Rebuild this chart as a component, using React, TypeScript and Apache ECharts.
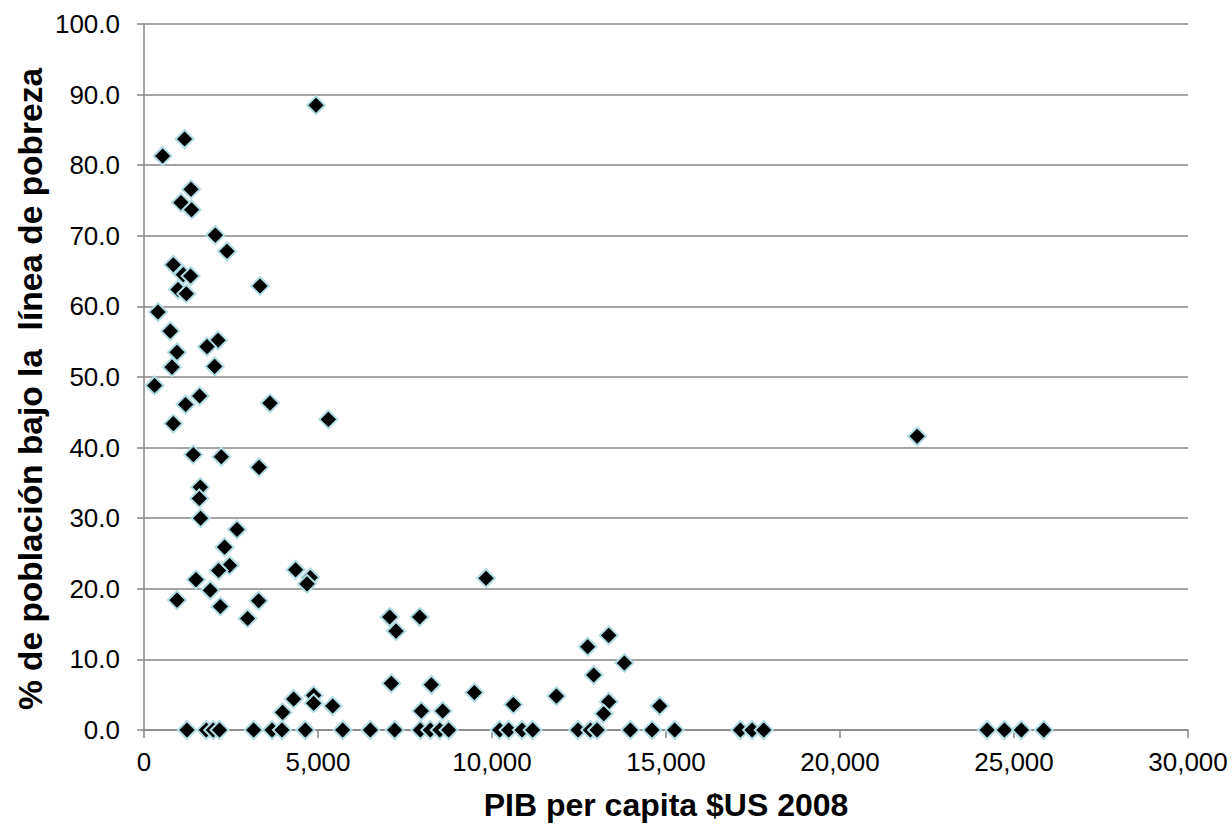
import React, { useEffect, useRef } from "react";
import * as echarts from "echarts";

// GDP per capita ($US 2008) and % population below poverty line
const gdpNonZero = [
  4943, 1167, 535, 1351, 1063, 1368, 2049, 2385, 842, 1129, 1340, 977, 1216, 3334, 402,
  756, 2127, 1811, 948, 805, 2030, 305, 1598, 1196, 3621, 5297, 842, 1417, 2222, 3305,
  1618, 1589, 1627, 2673, 2316, 2460, 2144, 4357, 4779, 4685, 1494, 1905, 948, 2193, 3294,
  2977, 7059, 7242, 7921, 9829, 22216, 7107, 8257, 9493, 10614, 7970, 8582, 4300, 3983, 4875,
  4875, 5421, 13354, 12750, 13804, 12922, 11850, 13354, 13210, 14818,
];
const povertyNonZero = [
  88.5, 83.7, 81.3, 76.6, 74.7, 73.7, 70.1, 67.8, 65.9, 64.5, 64.3, 62.4, 61.8, 62.9, 59.2,
  56.5, 55.2, 54.3, 53.5, 51.4, 51.5, 48.8, 47.3, 46.1, 46.3, 44.0, 43.4, 39.0, 38.7, 37.2,
  34.4, 32.8, 30.0, 28.4, 25.9, 23.3, 22.6, 22.7, 21.6, 20.7, 21.3, 19.8, 18.4, 17.5, 18.3,
  15.8, 16.0, 14.0, 16.0, 21.5, 41.6, 6.6, 6.4, 5.3, 3.6, 2.7, 2.7, 4.4, 2.5, 4.9,
  3.8, 3.4, 13.4, 11.8, 9.5, 7.8, 4.8, 4.0, 2.3, 3.4,
];
const gdpZero = [
  1235, 1790, 1990, 2170, 3151, 3679, 3966, 4636, 5709, 6504, 7203, 7941, 8228, 8500, 8754,
  10220, 10479, 10864, 11168, 12473, 12827, 13019, 13976, 14600, 15250, 17138, 17474, 17808,
  24228, 24725, 25213, 25855,
];
const povertyZero = gdpZero.map(() => 0);

const xTitle = "PIB per capita $US 2008";
const yTitle = "% de población bajo la  línea de pobreza";

const FONT = "'Liberation Sans', Arial, sans-serif";
const GRAY = "#868686";

export default function App() {
  const ref = useRef<HTMLDivElement>(null);
  useEffect(() => {
    if (!ref.current) return;
    document.body.style.margin = "0";
    document.body.style.overflow = "hidden";
    const chart = echarts.init(ref.current, undefined, { renderer: "svg" });
    const points: number[][] = [];
    gdpNonZero.forEach((g, i) => points.push([g, povertyNonZero[i]]));
    gdpZero.forEach((g, i) => points.push([g, povertyZero[i]]));
    chart.setOption({
      animation: false,
      backgroundColor: "#ffffff",
      grid: { left: 144, right: 44, top: 24, bottom: 93, containLabel: false },
      xAxis: {
        type: "value",
        min: 0,
        max: 30000,
        interval: 5000,
        name: xTitle,
        nameLocation: "middle",
        nameGap: 59,
        nameTextStyle: { fontFamily: FONT, fontSize: 32, fontWeight: "bold", color: "#000" },
        axisLine: { show: true, lineStyle: { color: GRAY, width: 1.5 } },
        axisTick: { show: true, inside: false, length: 8, lineStyle: { color: GRAY, width: 1.5 } },
        splitLine: { show: false },
        axisLabel: {
          margin: 19,
          fontFamily: FONT,
          fontSize: 26,
          color: "#000",
          formatter: (v: number) => v.toLocaleString("en-US"),
        },
      },
      yAxis: {
        type: "value",
        min: 0,
        max: 100,
        interval: 10,
        axisLine: { show: true, lineStyle: { color: GRAY, width: 1.5 } },
        axisTick: { show: true, inside: false, length: 7, lineStyle: { color: GRAY, width: 1.5 } },
        splitLine: { show: true, lineStyle: { color: GRAY, width: 1.5 } },
        axisLabel: {
          margin: 24,
          fontFamily: FONT,
          fontSize: 26,
          color: "#000",
          formatter: (v: number) => v.toFixed(1),
        },
      },
      graphic: [
        {
          type: "text",
          x: 30,
          y: 389,
          rotation: Math.PI / 2,
          style: {
            text: yTitle,
            font: `bold 33.5px ${FONT}`,
            fill: "#000",
            textAlign: "center",
            textVerticalAlign: "middle",
          },
        },
      ],
      series: [
        {
          type: "scatter",
          symbol: "diamond",
          symbolSize: 18,
          data: points,
          itemStyle: { color: "#000000", borderColor: "#b0dce2", borderWidth: 2, opacity: 1 },
          emphasis: { disabled: true },
        },
      ],
    });
    return () => chart.dispose();
  }, []);
  return (
    <div
      ref={ref}
      style={{ position: "absolute", left: 0, top: 0, width: 1232, height: 826 }}
    />
  );
}
